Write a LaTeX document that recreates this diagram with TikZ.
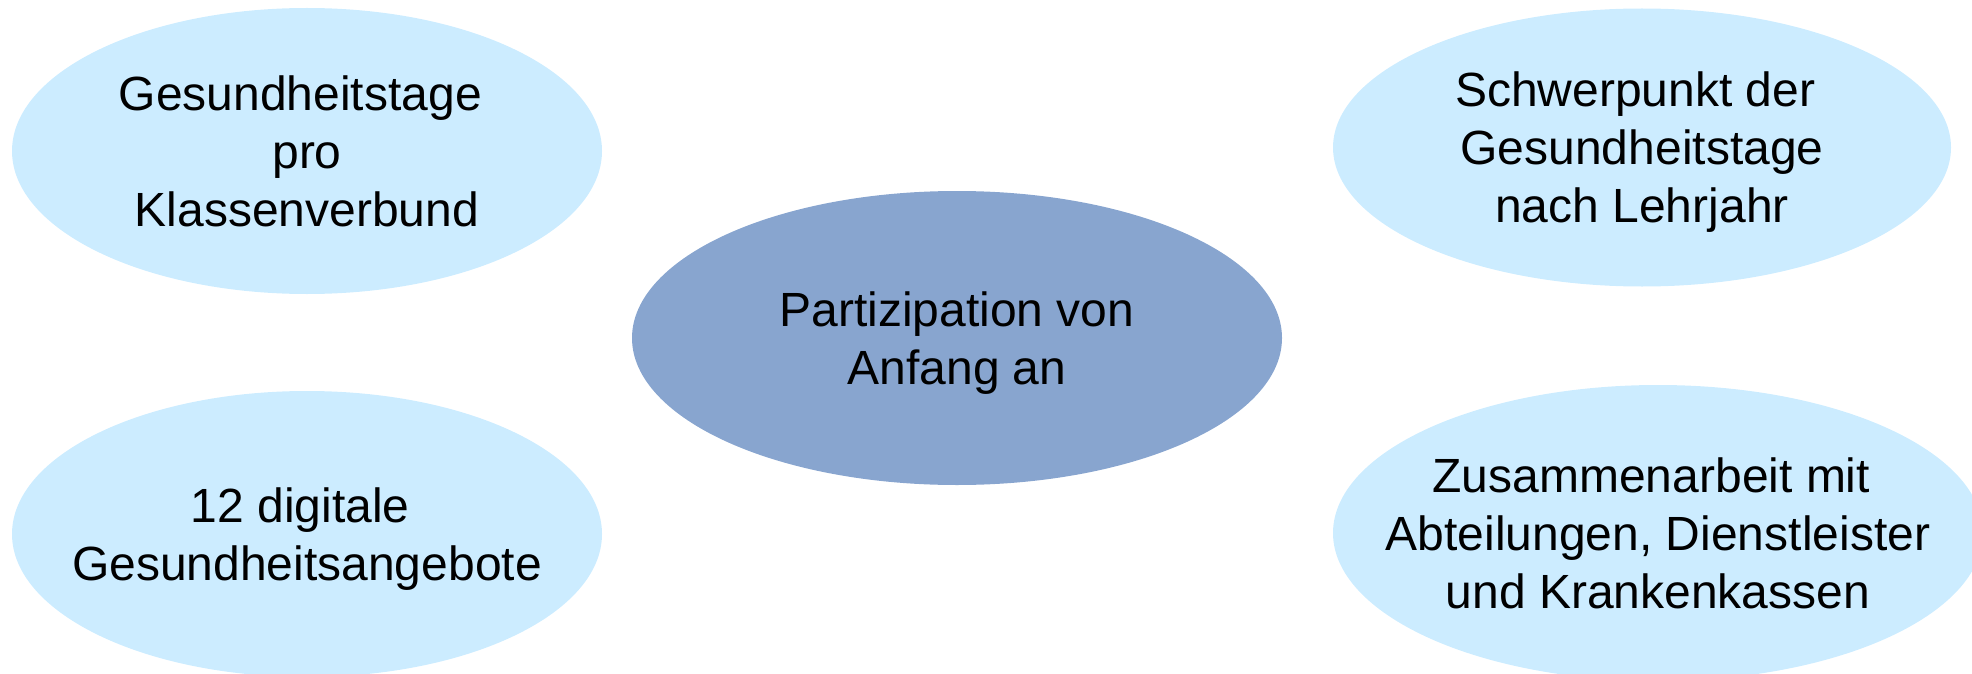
\documentclass[tikz,border=0pt]{standalone}
\usepackage{fontspec}
\setmainfont{Liberation Sans}
\usetikzlibrary{shapes.geometric}
\definecolor{satfill}{RGB}{204,236,255}
\definecolor{hubfill}{RGB}{136,165,207}
\newcommand\trsp{\hspace*{0.278em}}
\begin{document}
\begin{tikzpicture}[x=1pt,y=-1pt,
  bubble/.style={ellipse, inner sep=0pt, draw=none},
  sat/.style={bubble, fill=satfill},
  hub/.style={bubble, fill=hubfill},
  lbl/.style={inner sep=0pt, align=center, text=black, text depth=0pt,
    font=\fontsize{48}{58}\selectfont}]
\useasboundingbox (0,0) rectangle (1972,674);
\node[sat, minimum width=590pt, minimum height=286pt] (tl) at (307,151) {};
\node[lbl] (tlt) at (tl.center) {Gesundheitstage\trsp\\pro\\Klassenverbund};
\node[sat, minimum width=590pt, minimum height=286pt] (bl) at (307,534) {};
\node[lbl] (blt) at (bl.center) {12 digitale\trsp\\Gesundheitsangebote};
\node[hub, minimum width=650pt, minimum height=294pt] (hub) at (957,338) {};
\node[lbl] (hubt) at (hub.center) {Partizipation von\\Anfang an};
\node[sat, minimum width=618pt, minimum height=278pt] (tr) at (1642,147.5) {};
\node[lbl] (trt) at (tr.center) {Schwerpunkt der\trsp\\Gesundheitstage\trsp\\nach Lehrjahr};
\node[sat, minimum width=650pt, minimum height=296pt] (br) at (1658,533) {};
\node[lbl] (brt) at (br.center) {Zusammenarbeit mit\trsp\\Abteilungen, Dienstleister\trsp\\und Krankenkassen};
\end{tikzpicture}
\end{document}
